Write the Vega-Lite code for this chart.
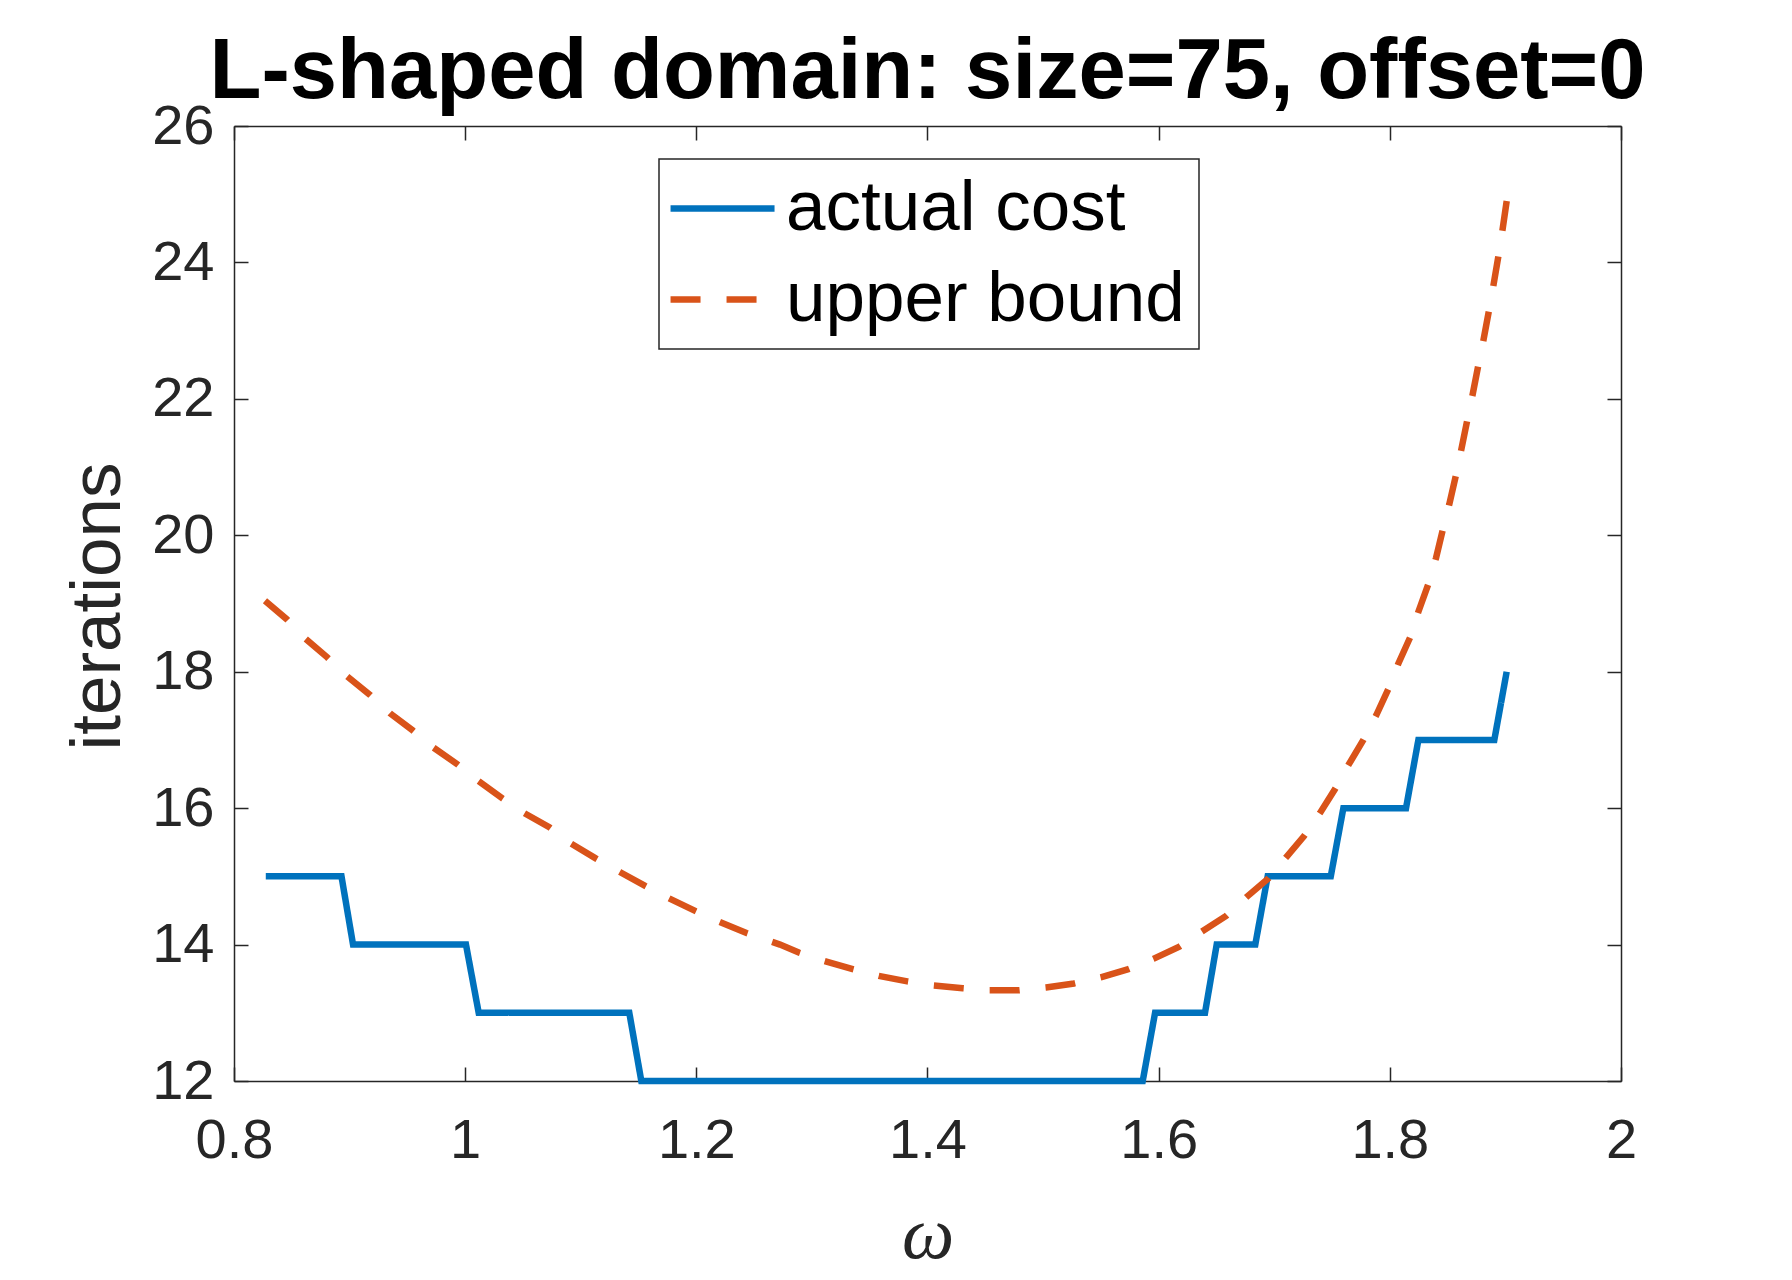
{
  "$schema": "https://vega.github.io/schema/vega-lite/v6.json",
  "autosize": "none",
  "width": 1387,
  "height": 955,
  "padding": {"left": 234, "top": 126, "right": 171, "bottom": 199},
  "background": "white",
  "title": {
    "text": "L-shaped domain: size=75, offset=0",
    "font": "Liberation Sans",
    "fontSize": 85,
    "fontWeight": "bold",
    "color": "#000000",
    "anchor": "middle",
    "frame": "group",
    "baseline": "alphabetic",
    "offset": -85
  },
  "data": {
    "values": [
      {"w": 0.8275, "it": 15, "series": "actual cost"},
      {"w": 0.893, "it": 15, "series": "actual cost"},
      {"w": 0.903, "it": 14, "series": "actual cost"},
      {"w": 1.0007, "it": 14, "series": "actual cost"},
      {"w": 1.0117, "it": 13, "series": "actual cost"},
      {"w": 1.142, "it": 13, "series": "actual cost"},
      {"w": 1.1524, "it": 12, "series": "actual cost"},
      {"w": 1.5862, "it": 12, "series": "actual cost"},
      {"w": 1.5969, "it": 13, "series": "actual cost"},
      {"w": 1.6401, "it": 13, "series": "actual cost"},
      {"w": 1.6502, "it": 14, "series": "actual cost"},
      {"w": 1.6836, "it": 14, "series": "actual cost"},
      {"w": 1.6943, "it": 15, "series": "actual cost"},
      {"w": 1.7489, "it": 15, "series": "actual cost"},
      {"w": 1.7598, "it": 16, "series": "actual cost"},
      {"w": 1.814, "it": 16, "series": "actual cost"},
      {"w": 1.8247, "it": 17, "series": "actual cost"},
      {"w": 1.8904, "it": 17, "series": "actual cost"},
      {"w": 1.9011, "it": 18, "series": "actual cost"},
      {"w": 0.8268, "it": 19.04, "series": "upper bound"},
      {"w": 0.8456, "it": 18.77, "series": "upper bound"},
      {"w": 0.8614, "it": 18.49, "series": "upper bound"},
      {"w": 0.8807, "it": 18.21, "series": "upper bound"},
      {"w": 0.898, "it": 17.93, "series": "upper bound"},
      {"w": 0.9177, "it": 17.66, "series": "upper bound"},
      {"w": 0.935, "it": 17.39, "series": "upper bound"},
      {"w": 0.9546, "it": 17.14, "series": "upper bound"},
      {"w": 0.9724, "it": 16.89, "series": "upper bound"},
      {"w": 0.9927, "it": 16.65, "series": "upper bound"},
      {"w": 1.0114, "it": 16.4, "series": "upper bound"},
      {"w": 1.0325, "it": 16.14, "series": "upper bound"},
      {"w": 1.0509, "it": 15.93, "series": "upper bound"},
      {"w": 1.0728, "it": 15.72, "series": "upper bound"},
      {"w": 1.0918, "it": 15.48, "series": "upper bound"},
      {"w": 1.1133, "it": 15.26, "series": "upper bound"},
      {"w": 1.1342, "it": 15.06, "series": "upper bound"},
      {"w": 1.1557, "it": 14.86, "series": "upper bound"},
      {"w": 1.1762, "it": 14.68, "series": "upper bound"},
      {"w": 1.1994, "it": 14.49, "series": "upper bound"},
      {"w": 1.2202, "it": 14.33, "series": "upper bound"},
      {"w": 1.2434, "it": 14.17, "series": "upper bound"},
      {"w": 1.2724, "it": 14.0, "series": "upper bound"},
      {"w": 1.2891, "it": 13.88, "series": "upper bound"},
      {"w": 1.3105, "it": 13.76, "series": "upper bound"},
      {"w": 1.3353, "it": 13.64, "series": "upper bound"},
      {"w": 1.3578, "it": 13.54, "series": "upper bound"},
      {"w": 1.3825, "it": 13.46, "series": "upper bound"},
      {"w": 1.4051, "it": 13.4, "series": "upper bound"},
      {"w": 1.4305, "it": 13.36, "series": "upper bound"},
      {"w": 1.4535, "it": 13.33, "series": "upper bound"},
      {"w": 1.4789, "it": 13.33, "series": "upper bound"},
      {"w": 1.5025, "it": 13.37, "series": "upper bound"},
      {"w": 1.5268, "it": 13.43, "series": "upper bound"},
      {"w": 1.5499, "it": 13.52, "series": "upper bound"},
      {"w": 1.5738, "it": 13.64, "series": "upper bound"},
      {"w": 1.5954, "it": 13.79, "series": "upper bound"},
      {"w": 1.6179, "it": 13.97, "series": "upper bound"},
      {"w": 1.6372, "it": 14.19, "series": "upper bound"},
      {"w": 1.6583, "it": 14.42, "series": "upper bound"},
      {"w": 1.6762, "it": 14.7, "series": "upper bound"},
      {"w": 1.6949, "it": 14.97, "series": "upper bound"},
      {"w": 1.7108, "it": 15.29, "series": "upper bound"},
      {"w": 1.7258, "it": 15.59, "series": "upper bound"},
      {"w": 1.7396, "it": 15.93, "series": "upper bound"},
      {"w": 1.7526, "it": 16.28, "series": "upper bound"},
      {"w": 1.7641, "it": 16.63, "series": "upper bound"},
      {"w": 1.7771, "it": 17.0, "series": "upper bound"},
      {"w": 1.7882, "it": 17.36, "series": "upper bound"},
      {"w": 1.7988, "it": 17.75, "series": "upper bound"},
      {"w": 1.8074, "it": 18.12, "series": "upper bound"},
      {"w": 1.8175, "it": 18.5, "series": "upper bound"},
      {"w": 1.8247, "it": 18.88, "series": "upper bound"},
      {"w": 1.8334, "it": 19.29, "series": "upper bound"},
      {"w": 1.84, "it": 19.67, "series": "upper bound"},
      {"w": 1.8458, "it": 20.08, "series": "upper bound"},
      {"w": 1.8515, "it": 20.46, "series": "upper bound"},
      {"w": 1.8572, "it": 20.88, "series": "upper bound"},
      {"w": 1.862, "it": 21.27, "series": "upper bound"},
      {"w": 1.8668, "it": 21.67, "series": "upper bound"},
      {"w": 1.8716, "it": 22.06, "series": "upper bound"},
      {"w": 1.8764, "it": 22.48, "series": "upper bound"},
      {"w": 1.881, "it": 22.86, "series": "upper bound"},
      {"w": 1.8856, "it": 23.28, "series": "upper bound"},
      {"w": 1.8898, "it": 23.68, "series": "upper bound"},
      {"w": 1.8938, "it": 24.08, "series": "upper bound"},
      {"w": 1.8975, "it": 24.48, "series": "upper bound"},
      {"w": 1.9012, "it": 24.91, "series": "upper bound"}
    ]
  },
  "layer": [
    {
      "transform": [{"filter": "datum.series == 'actual cost'"}],
      "mark": {"type": "line", "strokeWidth": 6.5, "strokeJoin": "miter", "strokeCap": "butt"},
      "encoding": {
        "x": {
          "field": "w",
          "type": "quantitative",
          "scale": {"domain": [0.8, 2], "nice": false, "zero": false},
          "axis": {
            "orient": "bottom",
            "values": [0.8, 1, 1.2, 1.4, 1.6, 1.8, 2],
            "format": "~g",
            "labelPadding": 46,
            "labelBaseline": "top",
            "labelFlush": false,
            "labelOverlap": false,
            "title": "ω",
            "titleFont": "Liberation Serif",
            "titleFontStyle": "italic",
            "titleFontWeight": "normal",
            "titleFontSize": 74,
            "titleBaseline": "alphabetic",
            "titleY": 176
          }
        },
        "y": {
          "field": "it",
          "type": "quantitative",
          "scale": {"domain": [12, 26], "nice": false, "zero": false},
          "axis": {
            "orient": "left",
            "values": [12, 14, 16, 18, 20, 22, 24, 26],
            "labelPadding": 34,
            "labelOverlap": false,
            "title": "iterations",
            "titleFont": "Liberation Sans",
            "titleFontWeight": "normal",
            "titleFontSize": 71,
            "titleAngle": -90,
            "titleAlign": "center",
            "titleBaseline": "middle",
            "titleX": -136,
            "titleY": 480
          }
        },
        "color": {
          "field": "series",
          "type": "nominal",
          "scale": {"domain": ["actual cost", "upper bound"], "range": ["#0072BD", "#D95319"]},
          "legend": {"title": null}
        },
        "strokeDash": {
          "field": "series",
          "type": "nominal",
          "scale": {"domain": ["actual cost", "upper bound"], "range": [[1, 0], [30, 26]]},
          "legend": {"title": null}
        }
      }
    },
    {
      "transform": [{"filter": "datum.series == 'upper bound'"}],
      "mark": {"type": "line", "strokeWidth": 6.5, "strokeCap": "butt"},
      "encoding": {
        "x": {
          "field": "w",
          "type": "quantitative",
          "axis": {
            "orient": "top",
            "values": [0.8, 1, 1.2, 1.4, 1.6, 1.8, 2],
            "labels": false,
            "title": null
          }
        },
        "y": {
          "field": "it",
          "type": "quantitative",
          "axis": {
            "orient": "right",
            "values": [12, 14, 16, 18, 20, 22, 24, 26],
            "labels": false,
            "title": null
          }
        },
        "color": {"field": "series", "type": "nominal", "legend": {"title": null}},
        "strokeDash": {"field": "series", "type": "nominal", "legend": {"title": null}}
      }
    }
  ],
  "resolve": {"axis": {"x": "independent", "y": "independent"}},
  "config": {
    "view": {"stroke": null},
    "axis": {
      "grid": false,
      "domainColor": "#262626",
      "domainWidth": 1.5,
      "tickColor": "#262626",
      "tickWidth": 1.5,
      "tickSize": -14,
      "labelFont": "Liberation Sans",
      "labelFontSize": 56,
      "labelColor": "#262626",
      "titleColor": "#262626"
    },
    "legend": {
      "orient": "none",
      "legendX": 425,
      "legendY": 33,
      "direction": "vertical",
      "padding": 14,
      "fillColor": "white",
      "strokeColor": "#262626",
      "strokeWidth": 1.5,
      "cornerRadius": 0,
      "labelFont": "Liberation Sans",
      "labelFontSize": 71,
      "labelColor": "#000000",
      "labelLimit": 1000,
      "labelOffset": 42,
      "rowPadding": 19,
      "symbolType": "M-1.46,0H2.54",
      "symbolSize": 2704,
      "symbolStrokeWidth": 6.5
    }
  }
}
